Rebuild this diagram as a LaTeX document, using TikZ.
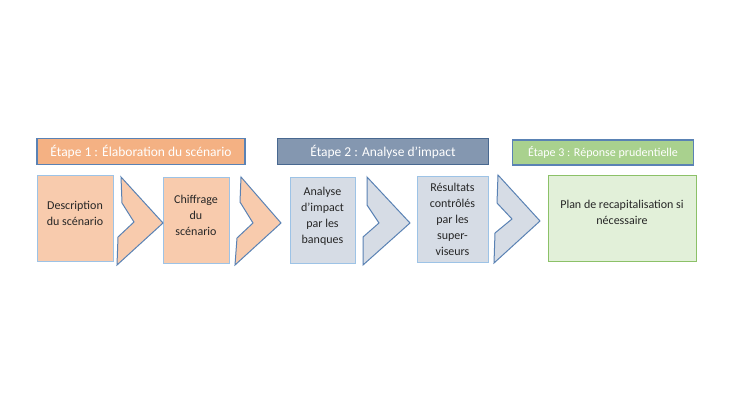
\documentclass[tikz,border=0pt]{standalone}
\usepackage{fontspec}
\setmainfont{Carlito}
\usepackage{tikz}
\usetikzlibrary{calc}
\usetikzlibrary{positioning}
\definecolor{orhead}{HTML}{F4B183}
\definecolor{orbox}{HTML}{F8CBAD}
\definecolor{bluhead}{HTML}{8497B0}
\definecolor{blubox}{HTML}{D6DCE5}
\definecolor{grnhead}{HTML}{A9D18E}
\definecolor{grnbox}{HTML}{E2F0D9}
\definecolor{grnline}{HTML}{8CC168}
\definecolor{edgeblue}{HTML}{5A82B4}
\definecolor{boxline}{HTML}{9DC3E6}
\newcommand{\remonte}[1]{\\[#1]\mbox{}}
\tikzstyle{etape} = [draw = edgeblue, line width = 1.3pt, inner sep = 0, text = white, font = \fontsize{13.5}{15}\selectfont, minimum height = 26pt]
\tikzstyle{boite} = [draw = boxline, line width = 0.9pt, inner sep = 0, align = center, text = black!85, font = \fontsize{12}{16}\selectfont, minimum height = 86pt]
\tikzstyle{chev} = [draw = edgeblue, line width = 1pt, line join = miter]

\begin{document}
\begin{tikzpicture}[x = 1pt, y = -1pt]
\useasboundingbox [fill = white] (0, 0) rectangle (730, 410);
% en-tetes des etapes
\node [etape, fill = orhead, minimum width = 208pt] (E1) at (141, 151.5) {Étape 1 : Élaboration du scénario};
\node [etape, fill = bluhead, minimum width = 211pt, draw = edgeblue!80!black] (E2) at (383, 151.5) {Étape 2 : Analyse d’impact};
\node [etape, fill = grnhead, minimum width = 181pt, minimum height = 25pt, font = \fontsize{12}{14}\selectfont] (E3) at (603, 152.5) {Étape 3 : Réponse prudentielle};
% boites
\node [boite, fill = orbox, minimum width = 76pt] (desc) at (75, 218.5) {Description\\du scénario\remonte{-6pt}};
\node [boite, fill = orbox, minimum width = 66pt] (chif) at (196, 220) {Chiffrage\\du\\scénario\remonte{-6pt}};
\node [boite, fill = blubox, minimum width = 65pt] (anal) at (322.5, 220) {Analyse\\d’impact\\par les\\banques\remonte{-6pt}};
\node [boite, fill = blubox, minimum width = 71pt] (resu) at (452.5, 219) {Résultats\\contrôlés\\par les\\super-\\viseurs};
\node [boite, fill = grnbox, draw = grnline, minimum width = 148pt] (plan) at (622, 218) {Plan de recapitalisation si\\nécessaire\remonte{-4pt}};
% chevrons
\draw [chev, fill = orbox] (121, 177) -- (122, 203) -- (134, 222) -- (118, 237) -- (117, 265) -- (163, 223) -- cycle;
\draw [chev, fill = orbox] (241, 177) -- (240, 202) -- (253, 223) -- (237, 238) -- (235, 265) -- (281, 223) -- cycle;
\draw [chev, fill = blubox] (367, 177) -- (367, 205) -- (379, 223) -- (363, 237) -- (363, 265) -- (410, 223) -- cycle;
\draw [chev, fill = blubox] (498, 175) -- (497, 203) -- (512, 219) -- (495, 233) -- (494, 263) -- (540, 221) -- cycle;
\end{tikzpicture}
\end{document}
